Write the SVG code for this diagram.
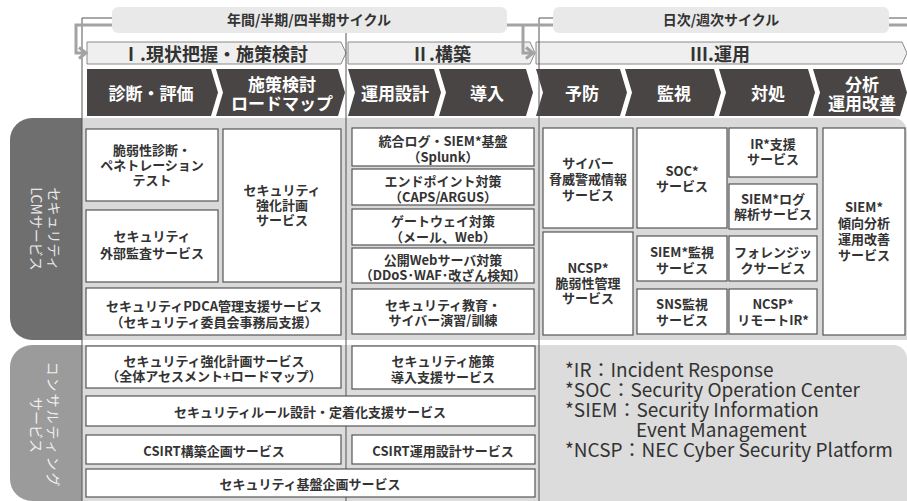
<svg xmlns="http://www.w3.org/2000/svg" width="907" height="501" viewBox="0 0 907 501">
<defs>
<style>
text{font-family:"Noto Sans CJK JP","Noto Sans",sans-serif;dominant-baseline:central;text-anchor:middle}
tspan{dominant-baseline:central}
.bn{fill:#e9e9e9}
.bt{font-size:14px;font-weight:700;fill:#333}
.lc{fill:#efefef;stroke:#8a8a8a;stroke-width:1}
.lt{font-size:18px;font-weight:700;fill:#333}
.dc{fill:#4a4545}
.dt{font-size:17px;font-weight:700;fill:#fff}
.box{fill:#fff;stroke:#555;stroke-width:1.2}
.t{font-size:13px;font-weight:700;fill:#333}
.tab{font-size:14px;font-weight:400}
.ln{fill:none;stroke:#555;stroke-width:1}
.ga{fill:none;stroke:#a3a3a3;stroke-width:3}
.lg{font-size:19px;fill:#333;text-anchor:start}
</style>
<marker id="ah" markerUnits="userSpaceOnUse" markerWidth="12" markerHeight="14" refX="9" refY="7" orient="auto">
<path d="M2,1.5 L9,7 L2,12.5" fill="none" stroke="#a3a3a3" stroke-width="3"/>
</marker>
</defs>

<!-- backgrounds -->
<path d="M82,118 H893 A14,14 0 0 1 907,132 V340 H82 Z" fill="#d9d9d9"/>
<path d="M82,345 H893 A14,14 0 0 1 907,359 V501 H82 Z" fill="#dcdcdc"/>

<g id="tab-lcm">
<path d="M82,118 H32 A22,22 0 0 0 10,140 V318 A22,22 0 0 0 32,340 H82 Z" fill="#6f6f6f"/>
<text class="tab" fill="#e8e8e8" transform="translate(46,229) rotate(90)"><tspan x="0" y="-9">セキュリティ</tspan><tspan x="0" y="9">LCMサービス</tspan></text>
</g>
<g id="tab-consult">
<path d="M82,345 H32 A22,22 0 0 0 10,367 V479 A22,22 0 0 0 32,501 H82 Z" fill="#9b9b9b"/>
<text class="tab" fill="#f0f0f0" transform="translate(45,425) rotate(90)"><tspan x="0" y="-8.5" letter-spacing="2">コンサルティング</tspan><tspan x="0" y="8.5">サービス</tspan></text>
</g>

<!-- banners -->
<g id="banner-year">
<rect class="bn" x="112" y="7" width="395" height="26" rx="6"/>
<text class="bt" x="309" y="19">年間/半期/四半期サイクル</text>
</g>
<g id="banner-day">
<rect class="bn" x="553" y="7" width="336" height="26" rx="6"/>
<text class="bt" x="721" y="19">日次/週次サイクル</text>
</g>

<!-- phase chevrons -->
<g id="phase-1">
<polygon class="lc" points="87,42 341,42 346,53 341,64 87,64"/>
<text class="lt" x="215" y="53">Ⅰ.現状把握・施策検討</text>
</g>
<g id="phase-2">
<polygon class="lc" points="348,42 530,42 535,53 530,64 348,64"/>
<text class="lt" x="441" y="53">Ⅱ.構築</text>
</g>
<g id="phase-3">
<polygon class="lc" points="536,42 902,42 907,53 902,64 536,64"/>
<text class="lt" x="720" y="53">Ⅲ.運用</text>
</g>

<!-- step chevrons -->
<g id="step-diag">
<polygon class="dc" points="87,69 211,69 218,92.5 211,116 87,116"/>
<text class="dt" x="151" y="92.5">診断・評価</text>
</g>
<g id="step-plan">
<polygon class="dc" points="216,69 338,69 345,92.5 338,116 216,116 223,92.5"/>
<text class="dt"><tspan x="282" y="83">施策検討</tspan><tspan x="282" y="102">ロードマップ</tspan></text>
</g>
<g id="step-design">
<polygon class="dc" points="348,69 434,69 441,92.5 434,116 348,116 355,92.5"/>
<text class="dt" x="395" y="92.5">運用設計</text>
</g>
<g id="step-intro">
<polygon class="dc" points="439,69 526,69 533,92.5 526,116 439,116 446,92.5"/>
<text class="dt" x="487" y="92.5">導入</text>
</g>
<g id="step-prevent">
<polygon class="dc" points="536,69 620,69 627,92.5 620,116 536,116 543,92.5"/>
<text class="dt" x="582" y="92.5">予防</text>
</g>
<g id="step-monitor">
<polygon class="dc" points="625,69 714,69 721,92.5 714,116 625,116 632,92.5"/>
<text class="dt" x="674" y="92.5">監視</text>
</g>
<g id="step-respond">
<polygon class="dc" points="719,69 808,69 815,92.5 808,116 719,116 726,92.5"/>
<text class="dt" x="768" y="92.5">対処</text>
</g>
<g id="step-analyze">
<polygon class="dc" points="813,69 900,69 907,92.5 900,116 813,116 820,92.5"/>
<text class="dt"><tspan x="862" y="83">分析</tspan><tspan x="862" y="102">運用改善</tspan></text>
</g>

<!-- connectors -->
<g id="connectors">
<path class="ln" d="M112,18 H82 V501"/>
<path class="ln" d="M346,33 V501"/>
<path class="ln" d="M553,18 H539 V501"/>
<path class="ln" d="M889,18 H907"/>
<path class="ga" d="M112,25 H76 V53 H86" marker-end="url(#ah)"/>
<path class="ga" d="M507,25 H553"/>
<path class="ga" d="M523,25 V53 H533" marker-end="url(#ah)"/>
<path class="ga" d="M889,25 H907"/>
</g>

<!-- LCM column I -->
<g id="n-vuln">
<rect class="box" x="86" y="129" width="132" height="72"/>
<text class="t"><tspan x="152" y="149">脆弱性診断・</tspan><tspan x="152" y="164">ペネトレーション</tspan><tspan x="152" y="179">テスト</tspan></text>
</g>
<g id="n-audit">
<rect class="box" x="86" y="210" width="132" height="72"/>
<text class="t"><tspan x="152" y="235">セキュリティ</tspan><tspan x="152" y="252">外部監査サービス</tspan></text>
</g>
<g id="n-plan">
<rect class="box" x="223" y="129" width="118" height="153"/>
<text class="t"><tspan x="282" y="189">セキュリティ</tspan><tspan x="282" y="204">強化計画</tspan><tspan x="282" y="219">サービス</tspan></text>
</g>
<g id="n-pdca">
<rect class="box" x="86" y="288" width="255" height="47"/>
<text class="t"><tspan x="214" y="305">セキュリティPDCA管理支援サービス</tspan><tspan x="214" y="321">（セキュリティ委員会事務局支援）</tspan></text>
</g>

<!-- LCM column II -->
<g id="n-siem-base">
<rect class="box" x="352" y="128" width="182" height="38"/>
<text class="t"><tspan x="443" y="140">統合ログ・SIEM*基盤</tspan><tspan x="443" y="156">（Splunk）</tspan></text>
</g>
<g id="n-endpoint">
<rect class="box" x="352" y="169" width="182" height="36"/>
<text class="t"><tspan x="443" y="180">エンドポイント対策</tspan><tspan x="443" y="196">（CAPS/ARGUS）</tspan></text>
</g>
<g id="n-gateway">
<rect class="box" x="352" y="209" width="182" height="36"/>
<text class="t"><tspan x="443" y="220">ゲートウェイ対策</tspan><tspan x="443" y="236">（メール、Web）</tspan></text>
</g>
<g id="n-web">
<rect class="box" x="352" y="248" width="182" height="35"/>
<text class="t"><tspan x="443" y="259">公開Webサーバ対策</tspan><tspan x="443" y="274">（DDoS･WAF･改ざん検知）</tspan></text>
</g>
<g id="n-edu">
<rect class="box" x="352" y="289" width="182" height="45"/>
<text class="t"><tspan x="443" y="304">セキュリティ教育・</tspan><tspan x="443" y="319">サイバー演習/訓練</tspan></text>
</g>

<!-- LCM column III -->
<g id="n-threat">
<rect class="box" x="543" y="128" width="90" height="100"/>
<text class="t"><tspan x="588" y="162">サイバー</tspan><tspan x="588" y="178">脅威警戒情報</tspan><tspan x="588" y="194">サービス</tspan></text>
</g>
<g id="n-ncsp-vuln">
<rect class="box" x="543" y="232" width="90" height="103"/>
<text class="t"><tspan x="588" y="267">NCSP*</tspan><tspan x="588" y="282">脆弱性管理</tspan><tspan x="588" y="297">サービス</tspan></text>
</g>
<g id="n-soc">
<rect class="box" x="637" y="128" width="90" height="100"/>
<text class="t"><tspan x="682" y="170">SOC*</tspan><tspan x="682" y="185">サービス</tspan></text>
</g>
<g id="n-ir">
<rect class="box" x="729" y="128" width="88" height="49"/>
<text class="t"><tspan x="773" y="143">IR*支援</tspan><tspan x="773" y="158">サービス</tspan></text>
</g>
<g id="n-siem-log">
<rect class="box" x="729" y="184" width="88" height="45"/>
<text class="t"><tspan x="773" y="198">SIEM*ログ</tspan><tspan x="773" y="213">解析サービス</tspan></text>
</g>
<g id="n-siem-mon">
<rect class="box" x="637" y="236" width="90" height="45"/>
<text class="t"><tspan x="682" y="251">SIEM*監視</tspan><tspan x="682" y="267">サービス</tspan></text>
</g>
<g id="n-forensic">
<rect class="box" x="729" y="236" width="88" height="45"/>
<text class="t"><tspan x="773" y="251">フォレンジッ</tspan><tspan x="773" y="267">クサービス</tspan></text>
</g>
<g id="n-sns">
<rect class="box" x="637" y="289" width="90" height="45"/>
<text class="t"><tspan x="682" y="303">SNS監視</tspan><tspan x="682" y="319">サービス</tspan></text>
</g>
<g id="n-ncsp-ir">
<rect class="box" x="729" y="289" width="88" height="45"/>
<text class="t"><tspan x="773" y="303">NCSP*</tspan><tspan x="773" y="319">リモートIR*</tspan></text>
</g>
<g id="n-siem-trend">
<rect class="box" x="823" y="128" width="82" height="207"/>
<text class="t"><tspan x="864" y="206">SIEM*</tspan><tspan x="864" y="222">傾向分析</tspan><tspan x="864" y="238">運用改善</tspan><tspan x="864" y="254">サービス</tspan></text>
</g>

<!-- consulting -->
<g id="c-plan">
<rect class="box" x="86" y="346" width="255" height="42"/>
<text class="t"><tspan x="214" y="360">セキュリティ強化計画サービス</tspan><tspan x="214" y="375">（全体アセスメント+ロードマップ）</tspan></text>
</g>
<g id="c-intro">
<rect class="box" x="352" y="346" width="183" height="43"/>
<text class="t"><tspan x="443" y="360">セキュリティ施策</tspan><tspan x="443" y="376">導入支援サービス</tspan></text>
</g>
<g id="c-rule">
<rect class="box" x="86" y="396" width="449" height="30"/>
<text class="t" x="310" y="411">セキュリティルール設計・定着化支援サービス</text>
</g>
<g id="c-csirt-build">
<rect class="box" x="86" y="435" width="255" height="29"/>
<text class="t" x="214" y="450">CSIRT構築企画サービス</text>
</g>
<g id="c-csirt-ops">
<rect class="box" x="352" y="435" width="183" height="29"/>
<text class="t" x="443" y="450">CSIRT運用設計サービス</text>
</g>
<g id="c-base">
<rect class="box" x="86" y="469" width="449" height="28"/>
<text class="t" x="310" y="483">セキュリティ基盤企画サービス</text>
</g>

<!-- legend -->
<g id="legend">
<text class="lg"><tspan x="565" y="368">*IR：Incident Response</tspan><tspan x="565" y="388">*SOC：Security Operation Center</tspan><tspan x="565" y="408">*SIEM：Security Information</tspan><tspan x="636" y="428">Event Management</tspan><tspan x="565" y="448">*NCSP：NEC Cyber Security Platform</tspan></text>
</g>
</svg>
